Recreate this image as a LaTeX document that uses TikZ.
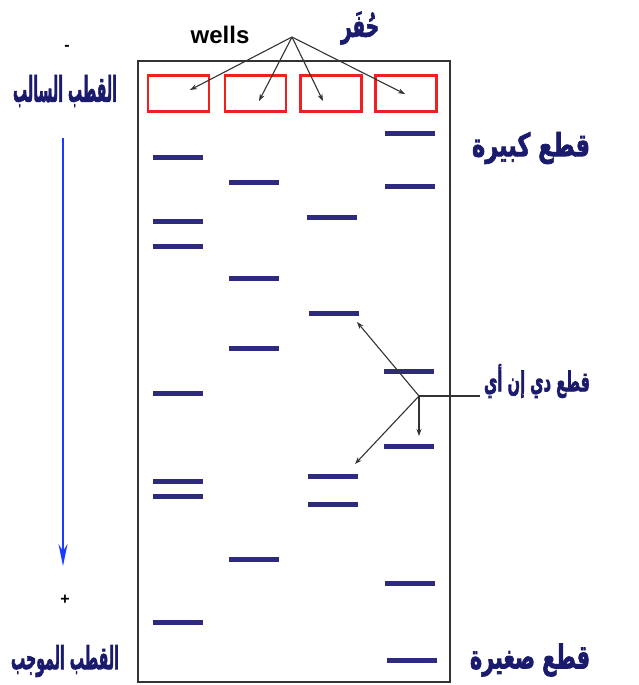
\documentclass[tikz,border=0pt]{standalone}
\usepackage{fontspec}
\usepackage{graphicx}
\setmainfont{Liberation Sans}
\newfontfamily\arabicfont[Script=Arabic, BoldFeatures={FakeBold=2.5}]{DejaVu Sans}
\TeXXeTstate=1
\usetikzlibrary{arrows.meta}
\definecolor{bandcol}{HTML}{2E2B7E}
\definecolor{navy}{HTML}{1B1B6E}
\definecolor{wellred}{HTML}{F02020}
\definecolor{poleblue}{HTML}{1A3CFF}
\definecolor{gelgray}{HTML}{333333}
\newcommand{\arbox}[3]{\resizebox*{#1}{#2}{\arabicfont\bfseries #3}}
\tikzset{
  band/.style={rectangle, fill=bandcol, minimum width=50pt, minimum height=5pt, inner sep=0pt},
  well/.style={rectangle, draw=wellred, line width=2.2pt, minimum width=61pt, minimum height=36pt, inner sep=0pt},
  ptr/.style={draw=gelgray, line width=1.1pt, -{Stealth[length=7pt,width=5pt]}},
  arlabel/.style={text=navy, inner sep=0pt},
}
\begin{document}
\begin{tikzpicture}[x=1pt,y=-1pt]
\useasboundingbox (0,0) rectangle (639,685);
% gel
\node[draw=gelgray, line width=2pt, minimum width=312pt, minimum height=621pt, inner sep=0pt, anchor=north west] (gel) at (137,60) {};
% wells
\node[well] (w1) at (178.5,93.5) {};
\node[well] (w2) at (255.5,93.5) {};
\node[well] (w3) at (331,93.5) {};
\node[well] (w4) at (406,93.5) {};
% labels top
\node[font=\bfseries\fontsize{24}{26}\selectfont, inner sep=0pt] (wells) at (220,35) {wells};
\node[arlabel] (hufar) at (360,28) {\arbox{38pt}{33pt}{\beginR حُفَر\endR}};
\coordinate (apex) at (292,37);
\coordinate (t1) at (190,90);
\coordinate (t2) at (259,101);
\coordinate (t3) at (323,101);
\coordinate (t4) at (405,94);
\draw[ptr] (apex) -- (t1);
\draw[ptr] (apex) -- (t2);
\draw[ptr] (apex) -- (t3);
\draw[ptr] (apex) -- (t4);
% poles
\node[font=\bfseries\fontsize{16}{18}\selectfont, inner sep=0pt] (minus) at (67,48) {-};
\node[arlabel] (neg) at (65,91) {\arbox{104pt}{32pt}{\beginR القطب السالب\endR}};
\coordinate (bs) at (63,138);
\coordinate (be) at (63,566);
\draw[poleblue, line width=1.6pt, -{Stealth[length=22pt,width=9pt]}] (bs) -- (be);
\node[font=\bfseries\fontsize{16}{18}\selectfont, inner sep=0pt] (plus) at (65,600) {+};
\node[arlabel] (pos) at (65,661) {\arbox{108pt}{32pt}{\beginR القطب الموجب\endR}};
% bands lane 1
\node[band] (a1) at (178,157) {};
\node[band] (a2) at (178,221) {};
\node[band] (a3) at (178,246) {};
\node[band] (a4) at (178,393) {};
\node[band] (a5) at (178,481) {};
\node[band] (a6) at (178,496) {};
\node[band] (a7) at (178,622) {};
% lane 2
\node[band] (b1) at (254,182) {};
\node[band] (b2) at (254,278) {};
\node[band] (b3) at (254,348) {};
\node[band] (b4) at (254,559) {};
% lane 3
\node[band] (c1) at (332,217) {};
\node[band] (c2) at (334,313) {};
\node[band] (c3) at (333,476) {};
\node[band] (c4) at (333,504) {};
% lane 4
\node[band] (d1) at (410,133) {};
\node[band] (d2) at (410,186) {};
\node[band] (d3) at (409,371) {};
\node[band] (d4) at (409,446) {};
\node[band] (d5) at (410,583) {};
\node[band] (d6) at (412,660) {};
% right labels
\node[arlabel] (big) at (531,148) {\arbox{118pt}{32pt}{\beginR قطع كبيرة\endR}};
\node[arlabel] (dna) at (537,381) {\arbox{106pt}{34pt}{\beginR قطع دي إن أي\endR}};
\node[arlabel] (small) at (530,660) {\arbox{120pt}{33pt}{\beginR قطع صغيرة\endR}};
% DNA pointers
\coordinate (hub) at (419,396);
\coordinate (lineend) at (480,396);
\coordinate (p1) at (357,322);
\coordinate (p2) at (419,436);
\coordinate (p3) at (355,464);
\draw[gelgray, line width=1.1pt] (lineend) -- (hub);
\draw[ptr] (hub) -- (p1);
\draw[ptr] (hub) -- (p2);
\draw[ptr] (hub) -- (p3);
\end{tikzpicture}
\end{document}
